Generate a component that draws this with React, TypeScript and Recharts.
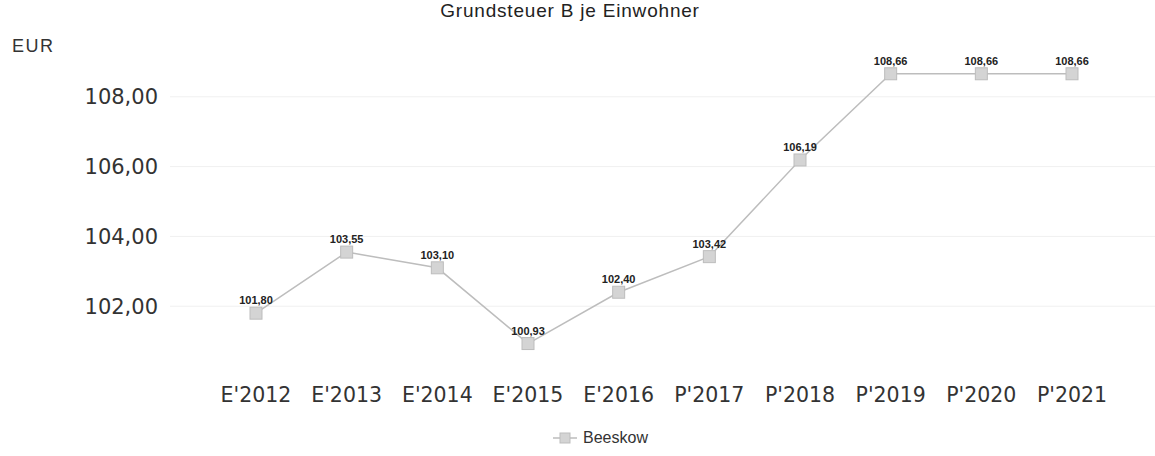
import React from 'react';
import {
  LineChart,
  Line,
  XAxis,
  YAxis,
  ReferenceLine,
  Legend,
  LabelList,
} from 'recharts';

// values
const years = [
  "E'2012",
  "E'2013",
  "E'2014",
  "E'2015",
  "E'2016",
  "P'2017",
  "P'2018",
  "P'2019",
  "P'2020",
  "P'2021",
];
const beeskow = [101.8, 103.55, 103.1, 100.93, 102.4, 103.42, 106.19, 108.66, 108.66, 108.66];
const yTicks = [102, 104, 106, 108];

const data = years.map((year, i) => ({ year, Beeskow: beeskow[i] }));

const fmt = (v: number) => v.toFixed(2).replace('.', ',');

const SquareDot = (props: any) => {
  const { cx, cy } = props;
  if (cx == null || cy == null) return null;
  return (
    <rect
      x={cx - 6}
      y={cy - 6}
      width={12}
      height={12}
      fill="#d4d4d4"
      stroke="#bdbdbd"
      strokeWidth={1}
    />
  );
};

const LegendContent = () => (
  <div
    style={{
      display: 'flex',
      justifyContent: 'center',
      alignItems: 'center',
      paddingLeft: 46,
      fontFamily: '"Liberation Sans", Arial, sans-serif',
      fontSize: 16,
      color: '#333',
    }}
  >
    <svg width={24} height={14} style={{ marginRight: 6 }}>
      <line x1={0} y1={7} x2={24} y2={7} stroke="#bdbdbd" strokeWidth={1.5} />
      <rect x={7} y={2} width={10} height={10} fill="#d4d4d4" stroke="#bdbdbd" />
    </svg>
    <span>Beeskow</span>
  </div>
);

export default function App() {
  return (
    <div
      style={{
        position: 'absolute',
        left: 0,
        top: 0,
        width: 1155,
        height: 456,
        background: '#fff',
      }}
    >
      <div
        style={{
          position: 'absolute',
          top: 0,
          left: 0,
          width: 1140,
          textAlign: 'center',
          fontFamily: '"Liberation Sans", Arial, sans-serif',
          fontSize: 19,
          letterSpacing: 0.8,
          color: '#222',
        }}
      >
        Grundsteuer B je Einwohner
      </div>
      <div
        style={{
          position: 'absolute',
          top: 36,
          left: 12,
          fontFamily: '"Liberation Sans", Arial, sans-serif',
          fontSize: 18,
          letterSpacing: 1.5,
          color: '#333',
        }}
      >
        EUR
      </div>
      <LineChart
        width={1155}
        height={456}
        data={data}
        margin={{ top: 27, right: 0, bottom: 40, left: 0 }}
      >
        {yTicks.map((t) => (
          <ReferenceLine key={t} y={t} stroke="#f0f0f0" />
        ))}
        <XAxis
          dataKey="year"
          axisLine={false}
          tickLine={false}
          tickSize={0}
          tickMargin={11}
          height={40}
          padding={{ left: 86, right: 83 }}
          tick={{ fontSize: 20.5, fill: '#333', fontFamily: '"DejaVu Sans", sans-serif' }}
        />
        <YAxis
          domain={[100, 110]}
          ticks={yTicks}
          width={170}
          axisLine={false}
          tickLine={false}
          tickSize={0}
          tickMargin={12}
          tickFormatter={fmt}
          tick={{ fontSize: 21, fill: '#333', fontFamily: '"DejaVu Sans", sans-serif' }}
        />
        <Legend
          verticalAlign="middle"
          align="center"
          wrapperStyle={{ top: 429, left: 0, width: 1155 }}
          content={<LegendContent />}
        />
        <Line
          dataKey="Beeskow"
          stroke="#bdbdbd"
          strokeWidth={1.5}
          dot={<SquareDot />}
          activeDot={false}
          isAnimationActive={false}
        >
          <LabelList
            dataKey="Beeskow"
            position="top"
            offset={9}
            formatter={(v: any) => fmt(Number(v))}
            style={{
              fontSize: 11,
              fontWeight: 'bold',
              fill: '#222',
              fontFamily: '"Liberation Sans", Arial, sans-serif',
            }}
          />
        </Line>
      </LineChart>
    </div>
  );
}
